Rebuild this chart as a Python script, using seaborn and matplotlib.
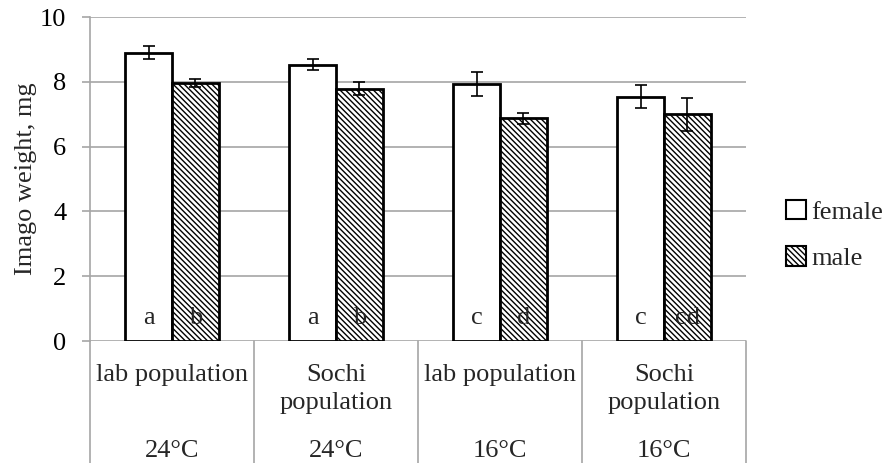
import matplotlib
matplotlib.use("Agg")
import matplotlib.pyplot as plt
import seaborn as sns
import pandas as pd
import numpy as np
from matplotlib.patches import Patch

# ---- data ----
groups = ["lab population", "Sochi\npopulation", "lab population", "Sochi\npopulation"]
group_ids = ["g1", "g2", "g3", "g4"]
temps = ["24°C", "24°C", "16°C", "16°C"]
female = [8.89, 8.52, 7.93, 7.54]
male = [7.97, 7.78, 6.87, 7.00]
female_err = [0.20, 0.17, 0.37, 0.35]
male_err = [0.13, 0.20, 0.17, 0.51]
female_letters = ["a", "a", "c", "c"]
male_letters = ["b", "b", "d", "cd"]

df = pd.DataFrame({
    "group": group_ids * 2,
    "sex": ["female"] * 4 + ["male"] * 4,
    "weight": female + male,
})

sns.set_theme(style="white")
plt.rcParams["font.family"] = ["Liberation Serif", "DejaVu Serif"]
plt.rcParams["hatch.linewidth"] = 1.0

FS = 19
fig = plt.figure(figsize=(8.86, 4.63), dpi=100)
ax = fig.add_axes([90/886, 1-341/463, (746-90)/886, (341-17)/463])

sns.barplot(data=df, x="group", y="weight", hue="sex", order=group_ids,
            hue_order=["female", "male"], palette=["white", "white"],
            width=0.573, errorbar=None, edgecolor="black", linewidth=2.0,
            legend=False, ax=ax, zorder=3)

HATCH = "\\\\\\\\\\\\"
bars = [p for p in ax.patches]
nb = len(group_ids)
fem_bars = bars[:nb]
mal_bars = bars[nb:2*nb]
for p in mal_bars:
    p.set_hatch(HATCH)
for plist, vals, errs, letters in [(fem_bars, female, female_err, female_letters),
                                   (mal_bars, male, male_err, male_letters)]:
    xs = [p.get_x() + p.get_width()/2 for p in plist]
    ax.errorbar(xs, vals, yerr=errs, fmt="none", ecolor="black",
                elinewidth=1.2, capsize=4.5, capthick=1.2, zorder=4)
    for x, l in zip(xs, letters):
        ax.text(x, 0.72, l, ha="center", va="center", fontsize=FS, zorder=5)

ax.set_ylim(0, 10)
ax.set_xlim(-0.5, 3.5)
ax.set_yticks([0, 2, 4, 6, 8, 10])
ax.yaxis.grid(True, color="#a6a6a6", linewidth=1.2, zorder=0)
ax.set_axisbelow(True)
for s in ["top", "right", "bottom"]:
    ax.spines[s].set_visible(False)
ax.spines["left"].set_color("#a6a6a6")
ax.spines["left"].set_linewidth(1.2)
ax.tick_params(axis="y", which="both", left=True, length=6, width=1.2,
               color="#a6a6a6", labelsize=FS, pad=11, labelcolor="black")
ax.set_xticks([])
ax.set_xlabel("")
ax.set_ylabel("Imago weight, mg", fontsize=FS, labelpad=2)

# multi-level category axis
trans = ax.get_xaxis_transform()
yb = -(463-341)/324 - 0.02
for xb in [-0.5, 0.5, 1.5, 2.5, 3.5]:
    ax.plot([xb, xb], [0, yb], transform=trans, color="#a6a6a6",
            linewidth=1.2, clip_on=False)
for i, (g, t) in enumerate(zip(groups, temps)):
    ax.text(i, -0.07, g, transform=trans, ha="center", va="top",
            fontsize=FS, linespacing=1.4)
    ax.text(i, -(451-341)/324, t, transform=trans, ha="center",
            va="center", fontsize=FS)

# legend
handles = [Patch(facecolor="white", edgecolor="black", linewidth=1.5, label="female"),
           Patch(facecolor="white", edgecolor="black", linewidth=1.5,
                 hatch=HATCH, label="male")]
fig.legend(handles=handles, loc="center left", bbox_to_anchor=(786/886, 1-235/463),
           frameon=False, fontsize=FS, handlelength=0.75, handleheight=0.75,
           handletextpad=0.2, labelspacing=0.85, borderaxespad=0, borderpad=0)

fig.savefig("out.png", dpi=100)
